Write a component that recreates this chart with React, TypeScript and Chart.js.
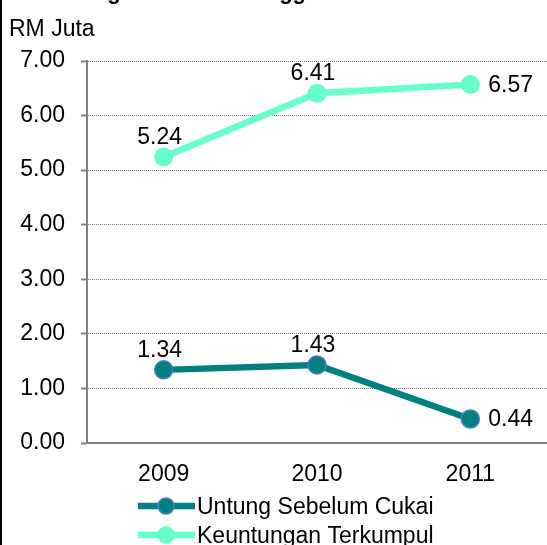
import React, { useEffect, useRef } from 'react';
import { Chart, registerables } from 'chart.js';

Chart.register(...registerables);

const categories = ['2009', '2010', '2011'];
const untungSebelumCukai = [1.34, 1.43, 0.44];
const keuntunganTerkumpul = [5.24, 6.41, 6.57];
const seriesNames = ['Untung Sebelum Cukai', 'Keuntungan Terkumpul'];
const unitLabel = 'RM Juta';
const titleText = 'Keuntungan Kasar Tertinggi';
const yMin = 0;
const yMax = 7;
const yStep = 1;

const FONT = "'Liberation Sans', Arial, sans-serif";
const DARK = '#008080';
const DARK_BORDER = '#4A7EBB';
const LIGHT = '#66FFCC';

const overlayPlugin = {
  id: 'overlay',
  afterDraw(chart: any) {
    const ctx = chart.ctx as CanvasRenderingContext2D;
    ctx.save();
    // left frame line
    ctx.fillStyle = '#000';
    ctx.fillRect(0, 0, 2, chart.height);

    // title (mostly cut off at top)
    ctx.font = `bold 22px ${FONT}`;
    ctx.textAlign = 'left';
    ctx.textBaseline = 'alphabetic';
    ctx.fillText(titleText, 18, -1);

    // unit label
    ctx.font = `23px ${FONT}`;
    ctx.fillText(unitLabel, 9, 36);

    // data labels
    chart.data.datasets.forEach((ds: any, di: number) => {
      const meta = chart.getDatasetMeta(di);
      meta.data.forEach((pt: any, i: number) => {
        const v = Number(ds.data[i]);
        const txt = v.toFixed(2);
        ctx.fillStyle = '#000';
        ctx.font = `23px ${FONT}`;
        if (i === meta.data.length - 1) {
          ctx.textAlign = 'left';
          ctx.textBaseline = 'middle';
          ctx.fillText(txt, pt.x + 18, pt.y + 1);
        } else {
          ctx.textAlign = 'center';
          ctx.textBaseline = 'alphabetic';
          ctx.fillText(txt, pt.x - 4, pt.y - 13);
        }
      });
    });

    // legend
    const rows = [506, 535];
    chart.data.datasets.forEach((ds: any, di: number) => {
      const y = rows[di];
      ctx.strokeStyle = ds.borderColor;
      ctx.lineWidth = 6.5;
      ctx.beginPath();
      ctx.moveTo(138, y);
      ctx.lineTo(195, y);
      ctx.stroke();
      ctx.beginPath();
      ctx.arc(166, y, 8, 0, Math.PI * 2);
      ctx.fillStyle = ds.pointBackgroundColor;
      ctx.fill();
      ctx.lineWidth = 1.5;
      ctx.strokeStyle = ds.pointBorderColor;
      ctx.stroke();
      ctx.fillStyle = '#000';
      ctx.font = `23px ${FONT}`;
      ctx.textAlign = 'left';
      ctx.textBaseline = 'alphabetic';
      ctx.fillText(ds.label, 197, y + 8);
    });
    ctx.restore();
  },
};

export default function App() {
  const ref = useRef<HTMLCanvasElement | null>(null);

  useEffect(() => {
    if (!ref.current) return;
    const chart = new Chart(ref.current, {
      type: 'line',
      data: {
        labels: categories,
        datasets: [
          {
            label: seriesNames[0],
            data: untungSebelumCukai,
            borderColor: DARK,
            backgroundColor: DARK,
            borderWidth: 6.5,
            pointRadius: 9,
            pointHoverRadius: 9,
            pointBackgroundColor: DARK,
            pointBorderColor: DARK_BORDER,
            pointBorderWidth: 1.5,
            tension: 0,
          },
          {
            label: seriesNames[1],
            data: keuntunganTerkumpul,
            borderColor: LIGHT,
            backgroundColor: LIGHT,
            borderWidth: 6.5,
            pointRadius: 9.5,
            pointHoverRadius: 9.5,
            pointBackgroundColor: LIGHT,
            pointBorderColor: LIGHT,
            pointBorderWidth: 0,
            tension: 0,
          },
        ],
      },
      options: {
        responsive: false,
        animation: false,
        devicePixelRatio: 1,
        layout: { autoPadding: false, padding: { top: 61, left: 0, right: 0, bottom: 0 } },
        plugins: {
          legend: { display: false },
          title: { display: false },
          tooltip: { enabled: false },
        },
        scales: {
          x: {
            type: 'category',
            offset: true,
            grid: { display: false },
            border: { display: true, color: '#808080', width: 2 },
            ticks: {
              color: '#000',
              font: { family: FONT, size: 23 },
              padding: 10,
              maxRotation: 0,
            },
            afterFit: (s: any) => {
              s.height = 102;
              s.paddingLeft = 0;
              s.paddingRight = 0;
            },
          },
          y: {
            min: yMin,
            max: yMax,
            ticks: {
              stepSize: yStep,
              color: '#000',
              font: { family: FONT, size: 23 },
              padding: 16,
              callback: (v: any) => Number(v).toFixed(2),
            },
            grid: {
              color: '#808080',
              lineWidth: 1,
              tickLength: 6,
              tickColor: '#808080',
              tickWidth: 2,
              tickBorderDash: [],
            },
            border: { display: true, color: '#808080', width: 2, dash: [1, 1] },
            afterFit: (s: any) => {
              s.width = 87;
            },
          },
        },
      },
      plugins: [overlayPlugin],
    } as any);
    return () => chart.destroy();
  }, []);

  return (
    <div style={{ position: 'fixed', left: 0, top: 0, width: 547, height: 545, background: '#fff' }}>
      <canvas ref={ref} width={547} height={545} style={{ display: 'block' }} />
    </div>
  );
}
